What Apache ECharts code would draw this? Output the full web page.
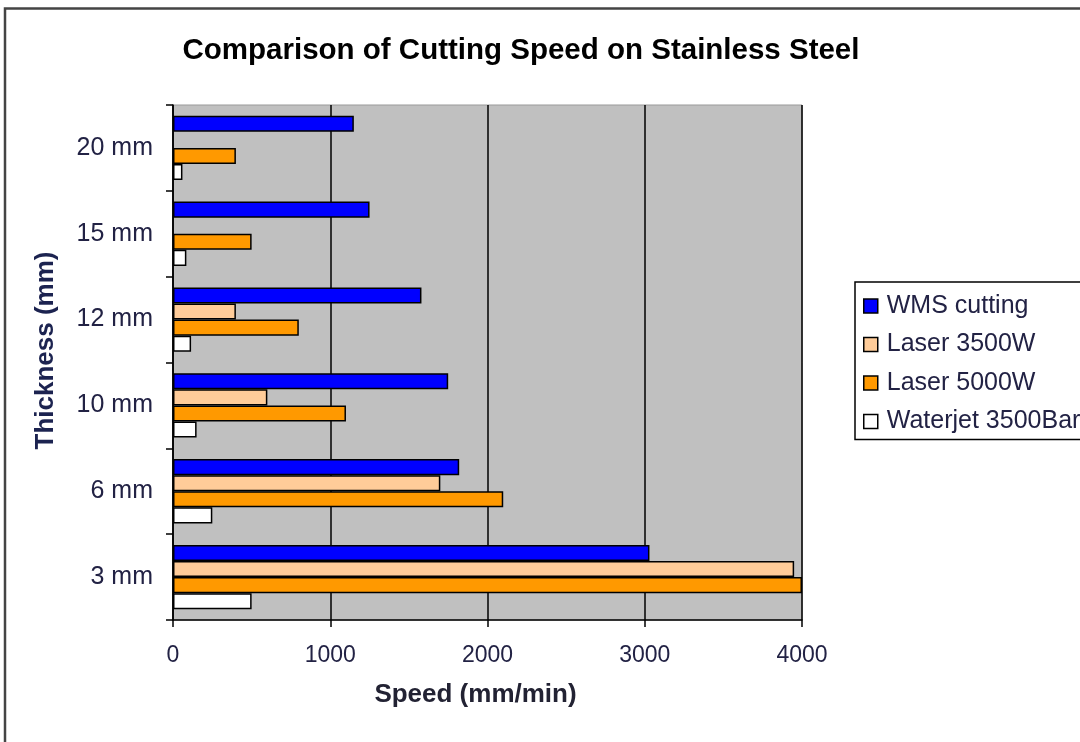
<!DOCTYPE html>
<html>
<head>
<meta charset="utf-8">
<title>Comparison of Cutting Speed on Stainless Steel</title>
<script src="https://cdn.jsdelivr.net/npm/echarts@6/dist/echarts.min.js"></script>
<style>
  html, body { margin: 0; padding: 0; background: #fff; }
  #chart { width: 1080px; height: 742px; }
</style>
</head>
<body>
<div id="chart"></div>
<script>
// Plate thickness categories, bottom to top
const thickness = ['3 mm', '6 mm', '10 mm', '12 mm', '15 mm', '20 mm'];

// Cutting speed in mm/min for each process
const wmsCutting   = [3030, 1820, 1750, 1580, 1250, 1150];
const laser3500W   = [3950, 1700, 600, 400, null, null];
const laser5000W   = [4000, 2100, 1100, 800, 500, 400];
const waterjet3500 = [500, 250, 150, 115, 85, 60];

const speedTicks = { min: 0, max: 4000, interval: 1000 };

const seriesDefs = [
  { name: 'WMS cutting',       data: wmsCutting,   color: '#0000FF' },
  { name: 'Laser 3500W',       data: laser3500W,   color: '#FFCC99' },
  { name: 'Laser 5000W',       data: laser5000W,   color: '#FF9900' },
  { name: 'Waterjet 3500Bar',  data: waterjet3500, color: '#FFFFFF' }
];

const font = '"Liberation Sans", Arial, sans-serif';
const chart = echarts.init(document.getElementById('chart'));

chart.setOption({
  animation: false,
  backgroundColor: '#fff',
  textStyle: { fontFamily: font },
  graphic: [{
    type: 'rect',
    shape: { x: 5, y: 8.5, width: 1200, height: 800 },
    style: { fill: 'none', stroke: '#444', lineWidth: 2.5 },
    silent: true,
    z: -1
  }],
  title: {
    text: 'Comparison of Cutting Speed on Stainless Steel',
    left: 516,
    textAlign: 'center',
    top: 31,
    textStyle: { fontFamily: font, fontSize: 29.5, fontWeight: 'bold', color: '#000' }
  },
  legend: {
    orient: 'vertical',
    left: 855,
    top: 282,
    padding: [11, 60, 5, 8],
    itemGap: 12.5,
    itemWidth: 14,
    itemHeight: 14,
    icon: 'rect',
    backgroundColor: '#fff',
    borderColor: '#000',
    borderWidth: 1.5,
    borderRadius: 0,
    textStyle: { fontFamily: font, fontSize: 25, lineHeight: 26, color: '#222244', padding: [0, 0, 0, 4] },
    data: seriesDefs.map(s => ({ name: s.name, itemStyle: { color: s.color, borderColor: '#000', borderWidth: 1.5 } }))
  },
  grid: {
    left: 173,
    right: 278,
    top: 105,
    bottom: 122,
    show: true,
    backgroundColor: '#C0C0C0',
    borderColor: '#999',
    borderWidth: 1
  },
  xAxis: {
    type: 'value',
    min: speedTicks.min,
    max: speedTicks.max,
    interval: speedTicks.interval,
    name: 'Speed (mm/min)',
    nameLocation: 'middle',
    nameGap: 62,
    nameTextStyle: { fontFamily: font, fontSize: 26, fontWeight: 'bold', color: '#222233', padding: [0, 24, 0, 0] },
    axisLine: { show: true, lineStyle: { color: '#000', width: 1.5 } },
    axisTick: { show: true, length: 7, lineStyle: { color: '#000', width: 1.5 } },
    axisLabel: { fontFamily: font, fontSize: 23, color: '#222244', margin: 24, formatter: v => String(v) },
    splitLine: { show: true, lineStyle: { color: '#000', width: 1.5 } }
  },
  yAxis: {
    type: 'category',
    data: thickness,
    name: 'Thickness (mm)',
    nameLocation: 'middle',
    nameGap: 114,
    nameRotate: 90,
    nameTextStyle: { fontFamily: font, fontSize: 26, fontWeight: 'bold', color: '#1c2350', padding: [0, 0, 0, 24] },
    axisLine: { show: true, lineStyle: { color: '#000', width: 1.5 } },
    axisTick: { show: true, length: 7, alignWithLabel: false, lineStyle: { color: '#000', width: 1.5 } },
    axisLabel: { fontFamily: font, fontSize: 25, color: '#222244', margin: 20 },
    splitLine: { show: false }
  },
  series: seriesDefs.map(s => ({
    name: s.name,
    type: 'bar',
    data: s.data,
    barGap: '0%',
    barCategoryGap: '25%',
    itemStyle: { color: s.color, borderColor: '#000', borderWidth: 1.5 }
  }))
});
</script>
</body>
</html>
